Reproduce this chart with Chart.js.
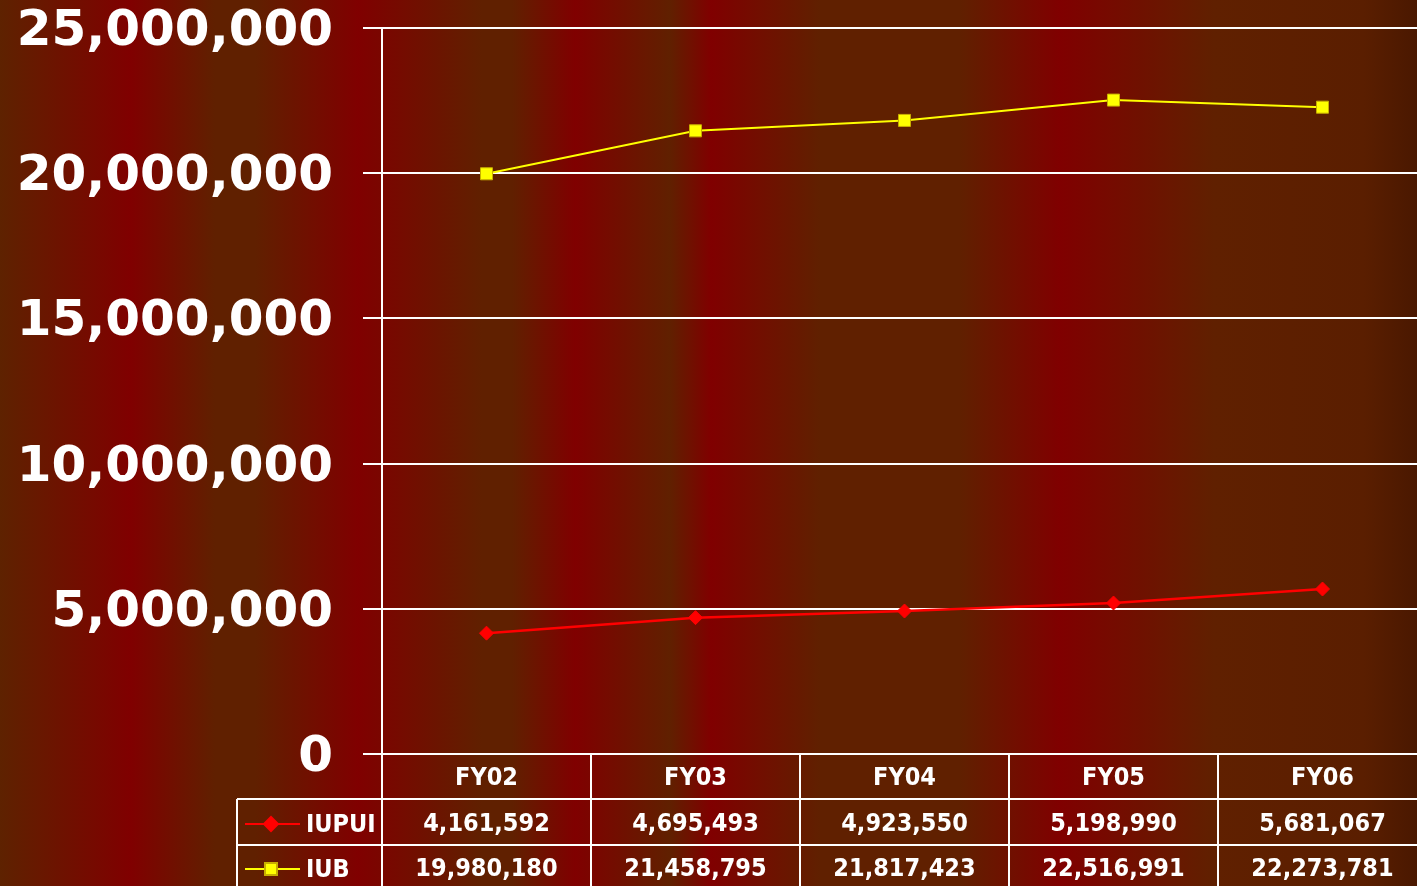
<!DOCTYPE html>
<html>
<head>
<meta charset="utf-8">
<script src="https://cdn.jsdelivr.net/npm/chart.js@4.4.1/dist/chart.umd.min.js"></script>
<style>
  html, body { margin: 0; padding: 0; overflow: hidden; background: #602000; }
  #wrap { position: relative; width: 1427px; height: 886px; }
</style>
</head>
<body>
<div id="wrap"><canvas id="chart" width="1427" height="886"></canvas></div>
<script>
const years = ['FY02', 'FY03', 'FY04', 'FY05', 'FY06'];
const iupui = [4161592, 4695493, 4923550, 5198990, 5681067];
const iub = [19980180, 21458795, 21817423, 22516991, 22273781];
const yTicks = [0, 5000000, 10000000, 15000000, 20000000, 25000000];

const RED = '#800000', BROWN = '#602000';
const fmt = v => v.toLocaleString('en-US');

// striped background like the original slide
const backdrop = {
  id: 'backdrop',
  beforeDraw(chart) {
    const { ctx } = chart;
    const W = 1417;
    const g = ctx.createLinearGradient(0, 0, W, 0);
    const stops = [
      [0, '#5e2200'], [131, RED], [215, BROWN], [255, BROWN], [358, RED],
      [482, BROWN], [512, BROWN], [575, RED], [670, BROWN], [711, RED],
      [820, BROWN], [960, BROWN], [1060, RED], [1214, BROWN], [1364, '#5a1e00'], [1417, '#4a1800']
    ];
    stops.forEach(([x, c]) => g.addColorStop(x / W, c));
    ctx.save();
    ctx.fillStyle = g;
    ctx.fillRect(0, 0, chart.width, chart.height);
    ctx.restore();
  }
};

// data table under the plot
const dataTable = {
  id: 'dataTable',
  afterDraw(chart) {
    const { ctx, chartArea: a, scales: { x } } = chart;
    const band = x.getPixelForValue(1) - x.getPixelForValue(0);
    const top = a.bottom, r1 = top + 45, r2 = top + 91, bot = chart.height;
    const legL = 237;
    ctx.save();
    ctx.strokeStyle = '#ffffff';
    ctx.lineWidth = 2;
    ctx.beginPath();
    ctx.moveTo(legL, r1); ctx.lineTo(a.right, r1);
    ctx.moveTo(legL, r2); ctx.lineTo(a.right, r2);
    ctx.moveTo(legL, r1); ctx.lineTo(legL, bot);
    years.forEach((_, i) => {
      const bx = a.left + i * band;
      ctx.moveTo(bx, top); ctx.lineTo(bx, bot);
    });
    ctx.stroke();

    ctx.fillStyle = '#ffffff';
    ctx.font = 'bold 25px "DejaVu Sans Condensed", "DejaVu Sans", sans-serif';
    ctx.textAlign = 'center';
    ctx.textBaseline = 'middle';
    years.forEach((y, i) => ctx.fillText(y, x.getPixelForValue(i), top + 24));

    const rows = [r1 + 25, r2 + 24];
    chart.data.datasets.forEach((ds, d) => {
      const cy = rows[d];
      ds.data.forEach((v, i) => ctx.fillText(fmt(v), x.getPixelForValue(i), cy));
      // legend key
      ctx.strokeStyle = ds.borderColor;
      ctx.lineWidth = 2;
      ctx.beginPath();
      ctx.moveTo(245, cy); ctx.lineTo(300, cy);
      ctx.stroke();
      ctx.fillStyle = ds.pointBackgroundColor;
      ctx.strokeStyle = ds.pointBorderColor;
      Chart.helpers.drawPoint(ctx, {
        pointStyle: ds.pointStyle, radius: ds.pointRadius, rotation: 0, borderWidth: ds.pointBorderWidth
      }, 271, cy);
      ctx.fillStyle = '#ffffff';
      ctx.textAlign = 'left';
      ctx.fillText(ds.label, 306, cy + 1);
      ctx.textAlign = 'center';
    });
    ctx.restore();
  }
};

new Chart(document.getElementById('chart'), {
  type: 'line',
  data: {
    labels: years,
    datasets: [
      {
        label: 'IUPUI',
        data: iupui,
        borderColor: '#ff0000',
        borderWidth: 2.5,
        pointStyle: 'rectRot',
        pointRadius: 7,
        pointHoverRadius: 7,
        pointBackgroundColor: '#ff0000',
        pointBorderColor: '#ff0000',
        pointBorderWidth: 1,
        tension: 0
      },
      {
        label: 'IUB',
        data: iub,
        borderColor: '#ffff00',
        borderWidth: 2,
        pointStyle: 'rect',
        pointRadius: 8.5,
        pointHoverRadius: 8.5,
        pointBackgroundColor: '#ffff00',
        pointBorderColor: '#c8b000',
        pointBorderWidth: 1,
        tension: 0
      }
    ]
  },
  options: {
    responsive: false,
    devicePixelRatio: 1,
    animation: false,
    layout: { autoPadding: false, padding: { top: 28, bottom: 132, right: 0, left: 0 } },
    plugins: { legend: { display: false }, tooltip: { enabled: false } },
    scales: {
      x: { display: false, offset: true },
      y: {
        min: 0,
        max: 25000000,
        afterBuildTicks: s => { s.ticks = yTicks.map(v => ({ value: v })); },
        afterFit: s => { s.width = 382; s.paddingTop = 0; s.paddingBottom = 0; },
        grid: { color: '#ffffff', lineWidth: 2, tickLength: 19, drawTicks: true },
        border: { display: true, color: '#ffffff', width: 2 },
        ticks: {
          color: '#ffffff',
          padding: 30,
          labelOffset: 4,
          font: { family: '"DejaVu Sans", sans-serif', size: 50, weight: 'bold' },
          callback: v => fmt(v)
        }
      }
    }
  },
  plugins: [backdrop, dataTable]
});
</script>
</body>
</html>
